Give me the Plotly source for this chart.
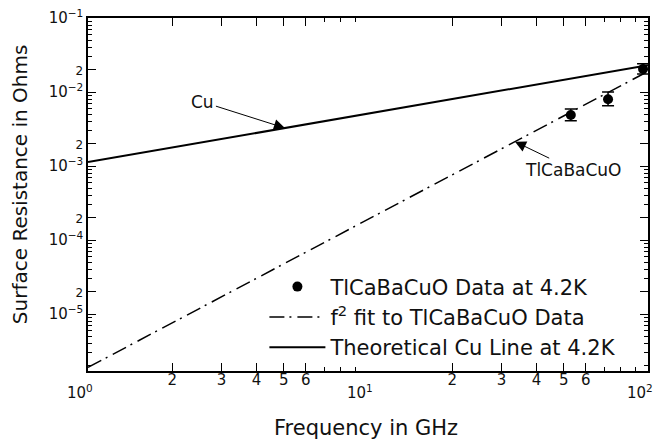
import numpy as np
import plotly.graph_objects as go

# ---- data ----
data_freq = [53, 72, 96]                 # GHz
data_rs = [4.9e-3, 8.0e-3, 2.05e-2]      # Ohms
data_err_up = [1.0e-3, 2.0e-3, 3.5e-3]
data_err_dn = [0.8e-3, 1.5e-3, 3.0e-3]

fit_freq = [1, 100]
fit_rs = [1.9e-6, 1.9e-2]                # f^2 fit

cu_freq = [1, 100]
cu_rs = [1.13e-3, 2.3e-2]                # theoretical Cu

x_minor_labels = [2, 3, 4, 5, 6, 20, 30, 40, 50, 60]
x_minor_text = ["2", "3", "4", "5", "6", "2", "3", "4", "5", "6"]
x_decades = [1, 10, 100]
x_decade_text = ["10<sup>0</sup>", "10<sup>1</sup>", "10<sup>2</sup>"]
y_tickvals = [1e-5, 2e-5, 1e-4, 2e-4, 1e-3, 2e-3, 1e-2, 2e-2, 1e-1]
y_ticktext = ["10<sup>−5</sup>", "<span style='font-size:12px'>2</span>",
              "10<sup>−4</sup>", "<span style='font-size:12px'>2</span>",
              "10<sup>−3</sup>", "<span style='font-size:12px'>2</span>",
              "10<sup>−2</sup>", "<span style='font-size:12px'>2</span>",
              "10<sup>−1</sup>"]

minor_x = [m * 10 ** e for e in range(0, 2) for m in range(2, 10)]
minor_y = [m * 10 ** e for e in range(-6, -1) for m in range(2, 10)]

FONT = "DejaVu Sans"
INK = "#111"

fig = go.Figure()
fig.add_trace(go.Scatter(
    x=data_freq, y=data_rs, mode="markers", cliponaxis=False,
    marker=dict(color="black", size=10),
    error_y=dict(type="data", symmetric=False, array=data_err_up,
                 arrayminus=data_err_dn, color="black", thickness=1.5, width=6),
    name="TlCaBaCuO Data at 4.2K"))
fig.add_trace(go.Scatter(
    x=fit_freq, y=fit_rs, mode="lines",
    line=dict(color="black", width=1.5, dash="15px,5px,2px,6px"),
    name="f<sup>2</sup> fit to TlCaBaCuO Data"))
fig.add_trace(go.Scatter(
    x=cu_freq, y=cu_rs, mode="lines",
    line=dict(color="black", width=2),
    name="Theoretical Cu Line at 4.2K"))

axis_common = dict(
    type="log", showgrid=False, zeroline=False, showline=True, automargin=False,
    linecolor="black", linewidth=1.5, mirror="allticks",
    ticks="inside", ticklen=8, tickwidth=1, tickcolor="black",
    tickmode="array", tickfont=dict(family=FONT, size=15, color=INK),
)

fig.update_xaxes(**axis_common, range=[0, 2],
                 tickvals=x_minor_labels, ticktext=x_minor_text,
                 ticklabelstandoff=-6,
                 minor=dict(tickmode="array", tickvals=minor_x, ticks="inside",
                            ticklen=4, tickcolor="black"))
fig.update_yaxes(**axis_common, range=[-5.77, -1],
                 tickvals=y_tickvals, ticktext=y_ticktext,
                 minor=dict(tickmode="array", tickvals=minor_y, ticks="inside",
                            ticklen=4, tickcolor="black"))

# decade labels on the x axis, set a little lower than the digit labels
for xv, txt in zip(x_decades, x_decade_text):
    fig.add_annotation(x=np.log10(xv), y=0, xref="x", yref="paper",
                       text=txt, showarrow=False, xanchor="center", yanchor="middle",
                       xshift=-8, yshift=-21,
                       font=dict(family=FONT, size=15, color=INK))

# annotations with arrows
cu_tip_f = 5.05
cu_tip_y = np.interp(np.log10(cu_tip_f), np.log10(cu_freq), np.log10(cu_rs))
fit_tip_f = 33.5
fit_tip_y = np.interp(np.log10(fit_tip_f), np.log10(fit_freq), np.log10(fit_rs))

fig.add_annotation(x=np.log10(cu_tip_f), y=cu_tip_y, text="Cu",
                   showarrow=True, arrowhead=2, arrowsize=2.2, arrowwidth=1,
                   arrowcolor="black", ax=-82, ay=-26,
                   font=dict(family=FONT, size=17, color=INK))
fig.add_annotation(x=np.log10(fit_tip_f), y=fit_tip_y, text="TlCaBaCuO",
                   showarrow=True, arrowhead=2, arrowsize=2.2, arrowwidth=1,
                   arrowcolor="black", ax=58, ay=28,
                   font=dict(family=FONT, size=17, color=INK))

# axis titles
fig.add_annotation(xref="paper", yref="paper", x=-0.121, y=0.53,
                   text="Surface Resistance in Ohms", textangle=-90,
                   showarrow=False, xanchor="center", yanchor="middle",
                   font=dict(family=FONT, size=20, color=INK))
fig.add_annotation(xref="paper", yref="paper", x=0.496, y=-0.161,
                   text="Frequency in GHz", showarrow=False,
                   xanchor="center", yanchor="middle",
                   font=dict(family=FONT, size=21, color=INK))

fig.update_layout(
    width=658, height=447,
    margin=dict(l=88, r=10, t=18, b=76),
    paper_bgcolor="white", plot_bgcolor="white",
    showlegend=True,
    legend=dict(x=0.315, y=0.01, xanchor="left", yanchor="bottom",
                bgcolor="rgba(0,0,0,0)", borderwidth=0,
                font=dict(family=FONT, size=21, color=INK),
                itemwidth=56, tracegroupgap=0),
)

fig.write_html("out.html", config={"displayModeBar": False},
               post_script="document.body.style.margin='0px';")
